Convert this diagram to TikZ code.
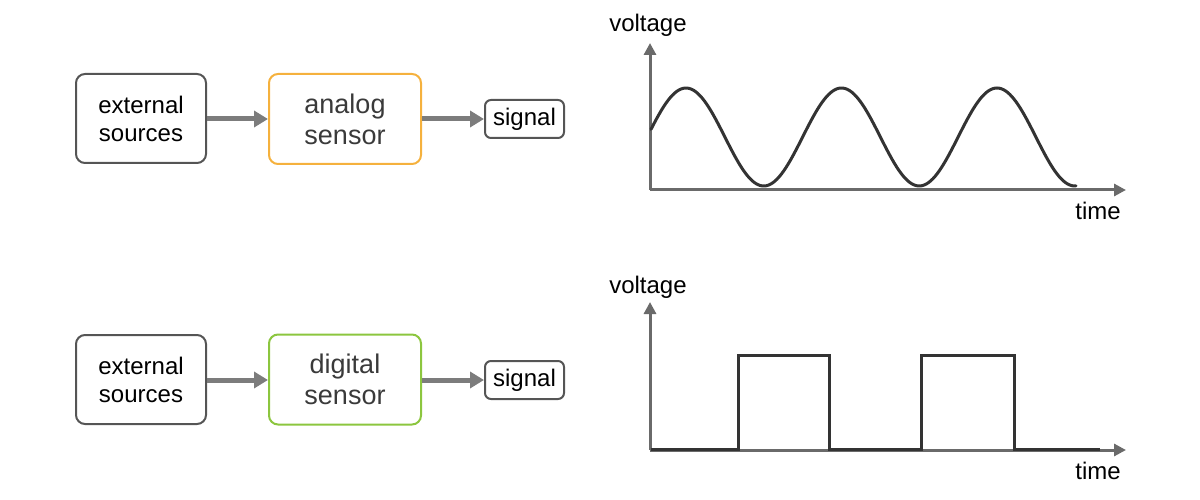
\documentclass[tikz,border=0pt]{standalone}
\usepackage{fontspec}
\setmainfont{Liberation Sans}
\usetikzlibrary{arrows.meta}
\definecolor{boxgray}{HTML}{555555}
\definecolor{arrgray}{HTML}{7C7C7C}
\definecolor{axgray}{HTML}{6A6A6A}
\definecolor{wave}{HTML}{333333}
\definecolor{orng}{HTML}{F5B13D}
\definecolor{grn}{HTML}{8CC63F}
\definecolor{stxt}{HTML}{3A3A3A}
\tikzset{
  srcbox/.style={draw=boxgray, line width=2pt, rounded corners=9pt, minimum width=130pt, minimum height=89pt, align=center, font=\fontsize{24}{28}\selectfont, inner sep=0pt},
  sensbox/.style={draw=#1, line width=2pt, rounded corners=9pt, minimum width=152pt, minimum height=90pt, align=center, text=stxt, font=\fontsize{27}{31}\selectfont, inner sep=0pt},
  sigbox/.style={draw=boxgray, line width=2pt, rounded corners=6pt, minimum width=79pt, minimum height=38pt, font=\fontsize{24}{28}\selectfont, inner sep=0pt},
  flow/.style={draw=arrgray, line width=5pt, -{Triangle[length=14pt,width=16pt]}},
  axis/.style={draw=axgray, line width=3pt, -{Triangle[length=12pt,width=12pt]}},
  curve/.style={draw=wave, line width=3pt, line join=miter},
  lbl/.style={font=\fontsize{24}{28}\selectfont, inner sep=0pt}
}
\begin{document}
\begin{tikzpicture}[x=1pt, y=-1pt]
\useasboundingbox (0,0) rectangle (1200,500);
% top row
\node[srcbox] (src1) at (141,118.5) {external\\sources};
\node[sensbox=orng] (ana) at (345,119) {analog\\sensor};
\node[sigbox] (sig1) at (524.5,119) {signal};
\draw[flow] (src1.east |- 0,119) -- (ana.west |- 0,119);
\draw[flow] (ana.east) -- (sig1.west);
% bottom row
\node[srcbox] (src2) at (141,379.5) {external\\sources};
\node[sensbox=grn] (dig) at (345,379.5) {digital\\sensor};
\node[sigbox] (sig2) at (524.5,380) {signal};
\draw[flow] (src2.east |- 0,380) -- (dig.west |- 0,380);
\draw[flow] (dig.east |- 0,380) -- (sig2.west);
% top graph
\coordinate (o1) at (650,190);
\coordinate (y1) at (650,43);
\coordinate (x1) at (1126,190);
\draw[axis] (o1) -- (y1);
\draw[axis] (o1) -- (x1);
\node[lbl] (v1) at (648,25) {voltage};
\node[lbl] (t1) at (1098,211) {time};
\draw[curve, line cap=round] plot[domain=651:1076, samples=200] (\x, {137-49*cos((\x-686)*2.31511)});
% bottom graph
\coordinate (o2) at (650,450);
\coordinate (y2) at (650,302);
\coordinate (x2) at (1126,450);
\draw[axis] (o2) -- (y2);
\draw[axis] (o2) -- (x2);
\node[lbl] (v2) at (648,287) {voltage};
\node[lbl] (t2) at (1098,471) {time};
\draw[curve] (651,449) -- (738,449) -- (738,355) -- (829,355) -- (829,449) -- (921,449) -- (921,355) -- (1014,355) -- (1014,449) -- (1100,449);
\end{tikzpicture}
\end{document}
